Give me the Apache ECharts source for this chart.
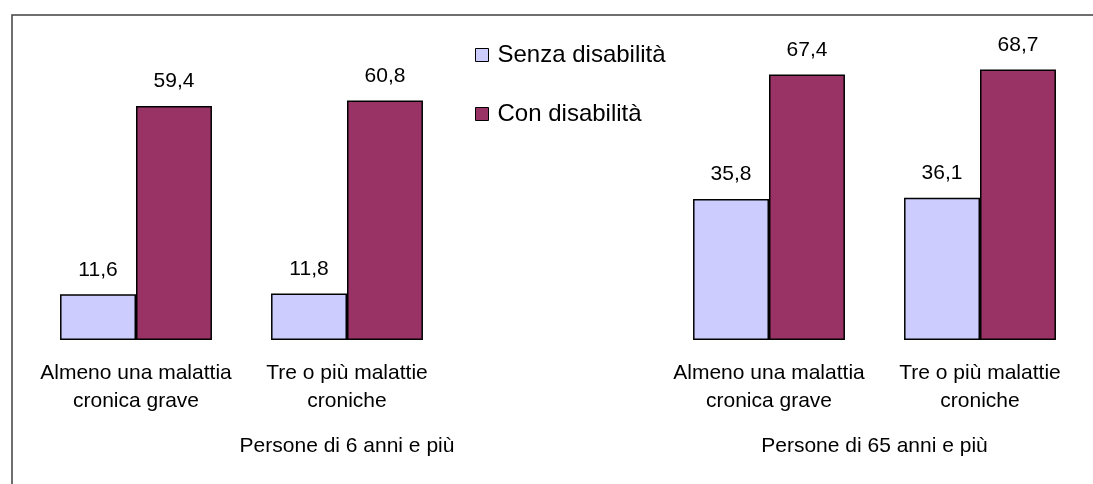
<!DOCTYPE html>
<html>
<head>
<meta charset="utf-8">
<script src="https://cdn.jsdelivr.net/npm/echarts@6/dist/echarts.min.js"></script>
<style>
html,body{margin:0;padding:0;background:#fff;}
#c{width:1093px;height:484px;}
</style>
</head>
<body>
<div id="c"></div>
<script>
// Data
const categories = ['Almeno una malattia\ncronica grave', 'Tre o più malattie\ncroniche'];
const groupLabels = ['Persone di 6 anni e più', 'Persone di 65 anni e più'];
const seriesNames = ['Senza disabilità', 'Con disabilità'];
const senza6 = [11.6, 11.8];
const con6 = [59.4, 60.8];
const senza65 = [35.8, 36.1];
const con65 = [67.4, 68.7];

// Build slots: group 1 categories, an empty gap slot, group 2 categories
const xCats = categories.concat([''], categories);
const senzaData = senza6.concat([null], senza65);
const conData = con6.concat([null], con65);
const groupPos = [1.5, 4.0];

const FONT = '"Liberation Sans", Arial, sans-serif';
const chart = echarts.init(document.getElementById('c'), null, {renderer: 'canvas'});
const lbl = {
  show: true, position: 'top', distance: 14, color: '#000', fontSize: 21, fontFamily: FONT,
  formatter: p => String(p.value).replace('.', ',')
};
chart.setOption({
  animation: false,
  backgroundColor: '#fff',
  textStyle: {fontFamily: FONT},
  graphic: [{
    type: 'rect', left: 9.5, top: 12.5, shape: {width: 1300, height: 700},
    style: {fill: 'none', stroke: '#404040', lineWidth: 1.5}, silent: true
  }],
  legend: {
    orient: 'vertical', left: 470, top: 38, itemGap: 35, padding: 5,
    itemWidth: 13, itemHeight: 13, icon: 'rect',
    textStyle: {fontSize: 24, color: '#000', fontFamily: FONT, padding: [0, 0, 0, 4]},
    itemStyle: {borderColor: '#000', borderWidth: 1},
    data: seriesNames
  },
  grid: {left: 30.5, right: 7.5, top: 25, bottom: 144},
  xAxis: [{
    type: 'category', data: xCats,
    axisLine: {show: false}, axisTick: {show: false},
    axisLabel: {interval: 0, color: '#000', fontSize: 21, lineHeight: 28, margin: 19, fontFamily: FONT}
  }, {
    type: 'value', min: 0, max: 5, position: 'bottom',
    axisLine: {show: false}, axisTick: {show: false}, splitLine: {show: false},
    axisLabel: {
      customValues: groupPos, color: '#000', fontSize: 21, margin: 96, fontFamily: FONT,
      formatter: v => { const i = groupPos.indexOf(v); return i >= 0 ? groupLabels[i] : ''; }
    }
  }],
  yAxis: {type: 'value', min: 0, max: 80, show: false, splitLine: {show: false}},
  series: [{
    name: seriesNames[0], type: 'bar', data: senzaData, barGap: '0%', barCategoryGap: '28%',
    itemStyle: {color: '#CCCCFF', borderColor: '#000', borderWidth: 1.5},
    label: lbl
  }, {
    name: seriesNames[1], type: 'bar', data: conData, barGap: '0%', barCategoryGap: '28%',
    itemStyle: {color: '#993366', borderColor: '#000', borderWidth: 1.5},
    label: lbl
  }]
});
</script>
</body>
</html>
